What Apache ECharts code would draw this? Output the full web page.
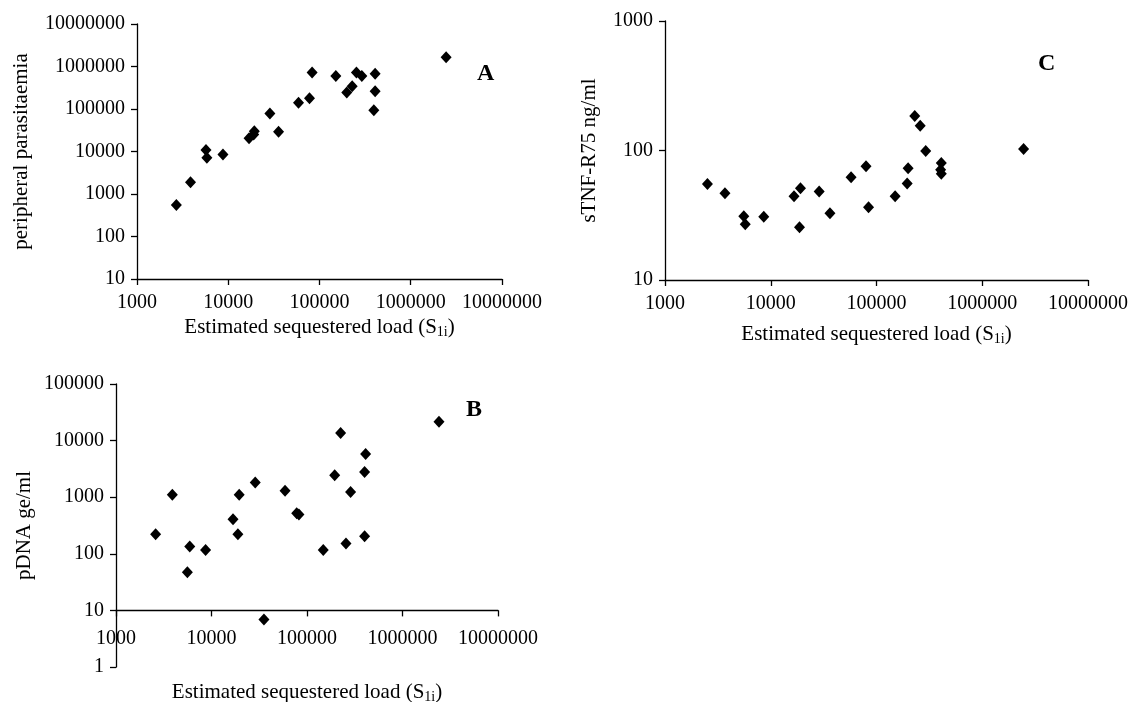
<!DOCTYPE html>
<html>
<head>
<meta charset="utf-8">
<script src="https://cdn.jsdelivr.net/npm/echarts@6/dist/echarts.min.js"></script>
<style>
  html, body { margin: 0; padding: 0; background: #fff; }
  #chart { width: 1130px; height: 702px; }
</style>
</head>
<body>
<div id="chart"></div>
<script>
// panel A: peripheral parasitaemia vs estimated sequestered load
const loadA = [2700, 3860, 5700, 5830, 8750, 16900, 19000, 19300, 28600, 35600, 58900,
  77700, 83000, 151000, 199000, 228000, 254000, 291000, 407000, 407000, 394000, 2440000]
const parasitaemia = [550, 1900, 10800, 7100, 8500, 20500, 25000, 30000, 78000, 29000, 140000,
  178000, 725000, 600000, 245000, 342000, 725000, 600000, 675000, 262000, 93000, 1650000]

// panel B: pDNA
const loadB = [2600, 3890, 5590, 5920, 8670, 16800, 18900, 19500, 28700, 35400, 58900,
  78000, 82300, 148000, 195000, 225000, 256000, 286000, 401000, 411000, 401000, 2410000]
const pdna = [222, 1100, 47, 134, 117, 409, 222, 1100, 1810, 6.9, 1306,
  520, 493, 117, 2430, 13600, 152, 1240, 2790, 5800, 205, 21500]

// panel C: sTNF-R75
const loadC = [2520, 3690, 5560, 5740, 8590, 16600, 19100, 18700, 28700, 36300, 57500,
  79600, 84100, 150000, 195000, 199000, 230000, 259000, 292000, 410000, 404000, 410000, 2460000]
const stnf = [55.2, 46.8, 31.1, 27, 30.8, 44.4, 51.2, 25.5, 48.2, 32.8, 62.1,
  75.5, 36.5, 44.4, 55.6, 73, 184.5, 155, 99, 80, 71, 66, 102.8]

const xTitle = 'Estimated sequestered load (S{sub|1i})'

const FONT = '"Liberation Serif", "Times New Roman", serif'

const chart = echarts.init(document.getElementById('chart'))

// B's x axis crosses the y axis at 10, one decade above the bottom (1)
const gridA = { left: 137, top: 24, width: 365, height: 255, outerBoundsMode: 'none' }
const gridB = { left: 116, top: 384, width: 382, height: 283, outerBoundsMode: 'none' }
const gridC = { left: 665, top: 21, width: 423, height: 259, outerBoundsMode: 'none' }
const decadeB = gridB.height / 5

function logAxis(extra) {
  return Object.assign({
    type: 'log',
    logBase: 10,
    axisLine: { show: true, lineStyle: { color: '#000', width: 1.3 } },
    axisTick: { show: true, length: 6, lineStyle: { color: '#000', width: 1.3 } },
    axisLabel: {
      color: '#000',
      fontFamily: FONT,
      fontSize: 20,
      margin: 12,
      interval: 0,
      hideOverlap: false,
      showMinLabel: true,
      showMaxLabel: true,
      formatter: v => String(Math.round(v))
    },
    splitLine: { show: false },
    minorTick: { show: false },
    nameTextStyle: {
      color: '#000',
      fontFamily: FONT,
      fontSize: 21,
      lineHeight: 24,
      rich: {
        sub: { fontFamily: FONT, fontSize: 14, lineHeight: 14, padding: [10, 0, 0, 0], color: '#000' }
      }
    }
  }, extra)
}

function scatter(xs, ys, idx) {
  return {
    type: 'scatter',
    xAxisIndex: idx,
    yAxisIndex: idx,
    symbol: 'diamond',
    symbolSize: [11, 12],
    itemStyle: { color: '#000', opacity: 1 },
    emphasis: { disabled: true },
    data: xs.map((x, i) => [x, ys[i]])
  }
}

const panelLabel = (text, left, top) => ({
  text,
  left,
  top,
  textStyle: { fontFamily: FONT, fontSize: 24, fontWeight: 'bold', color: '#000' }
})

const option = {
  animation: false,
  backgroundColor: '#fff',
  title: [
    panelLabel('A', 472, 57),
    panelLabel('B', 461, 393),
    panelLabel('C', 1033, 47)
  ],
  grid: [gridA, gridB, gridC],
  xAxis: [
    logAxis({ gridIndex: 0, min: 1000, max: 10000000, name: xTitle, nameLocation: 'middle', nameGap: 36,
      axisLabel: Object.assign({}, logAxis({}).axisLabel, { margin: 14 }) }),
    logAxis({ gridIndex: 1, min: 1000, max: 10000000, name: xTitle, nameLocation: 'middle', nameGap: 70,
      offset: -decadeB,
      axisLabel: Object.assign({}, logAxis({}).axisLabel, { margin: 18 }) }),
    logAxis({ gridIndex: 2, min: 1000, max: 10000000, name: xTitle, nameLocation: 'middle', nameGap: 42,
      axisLabel: Object.assign({}, logAxis({}).axisLabel, { margin: 14 }) })
  ],
  yAxis: [
    logAxis({ gridIndex: 0, min: 10, max: 10000000, name: 'peripheral parasitaemia', nameLocation: 'middle', nameGap: 104 }),
    logAxis({ gridIndex: 1, min: 1, max: 100000, name: 'pDNA ge/ml', nameLocation: 'middle', nameGap: 80 }),
    logAxis({ gridIndex: 2, min: 10, max: 1000, name: 'sTNF-R75 ng/ml', nameLocation: 'middle', nameGap: 64 })
  ],
  series: [
    scatter(loadA, parasitaemia, 0),
    scatter(loadB, pdna, 1),
    scatter(loadC, stnf, 2)
  ]
}

chart.setOption(option)
</script>
</body>
</html>
